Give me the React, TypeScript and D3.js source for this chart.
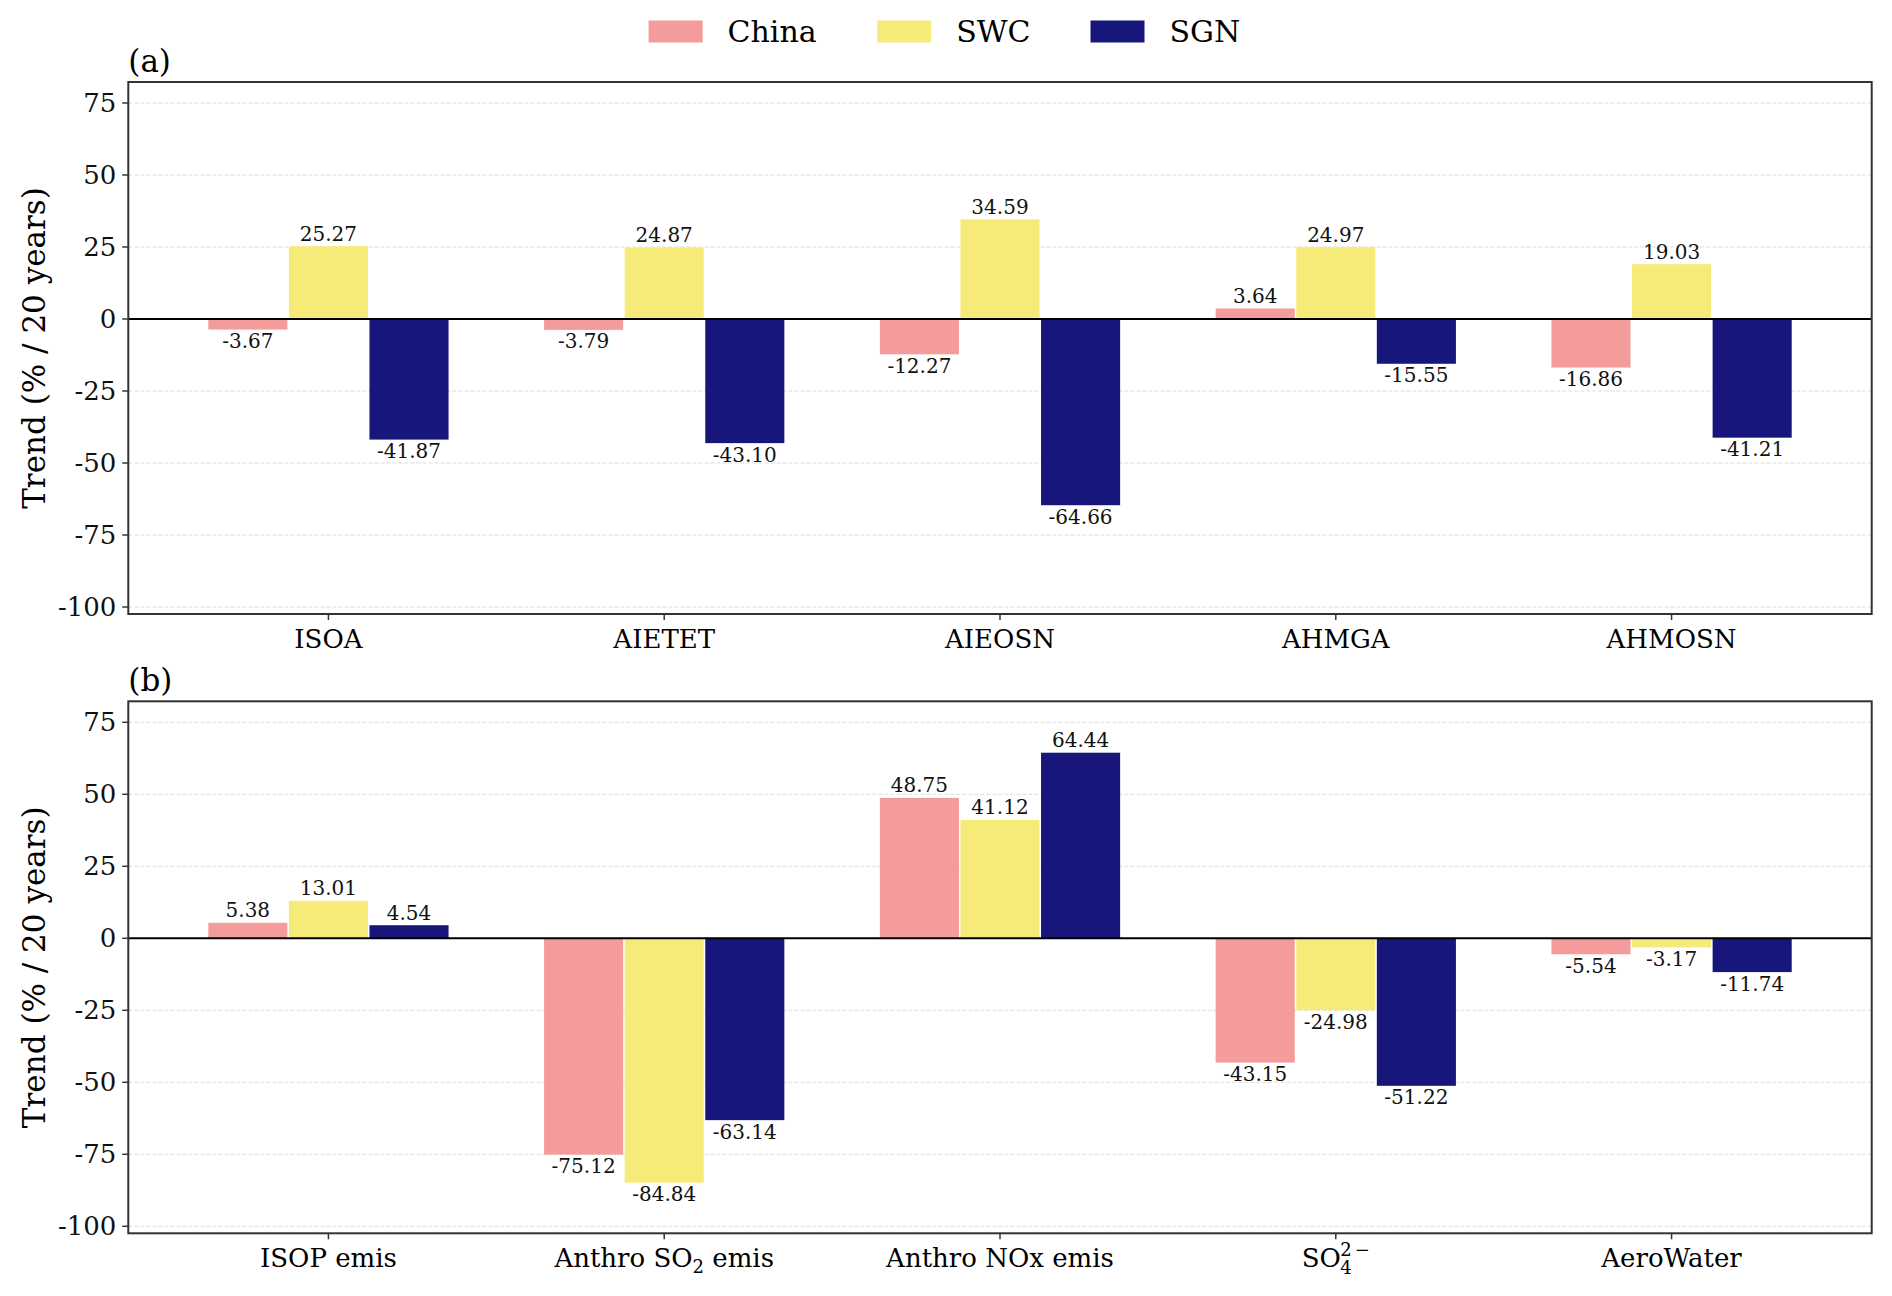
import React, { useEffect } from 'react';
import * as d3 from 'd3';

// ---- data ----
const seriesNames = ['China', 'SWC', 'SGN'];
const seriesColors = ['#F39C9B', '#F6EB78', '#16167B'];

const catsA = ['ISOA', 'AIETET', 'AIEOSN', 'AHMGA', 'AHMOSN'];
const chinaA = [-3.67, -3.79, -12.27, 3.64, -16.86];
const swcA = [25.27, 24.87, 34.59, 24.97, 19.03];
const sgnA = [-41.87, -43.1, -64.66, -15.55, -41.21];

const catsB = ['ISOP emis', 'Anthro SO2 emis', 'Anthro NOx emis', 'SO4 2-', 'AeroWater'];
const chinaB = [5.38, -75.12, 48.75, -43.15, -5.54];
const swcB = [13.01, -84.84, 41.12, -24.98, -3.17];
const sgnB = [4.54, -63.14, 64.44, -51.22, -11.74];

const yTicks = [75, 50, 25, 0, -25, -50, -75, -100];

// ---- layout ----
const W = 1892;
const H = 1296;
const left = 128.3;
const right = 1871.7;
const panelH = 532;
const barW = 0.24;
const font = '"DejaVu Serif", serif';

const x = d3.scaleLinear().domain([-0.596, 4.596]).range([left, right]);

const panels = [
  { tag: '(a)', top: 82, cats: catsA, data: [chinaA, swcA, sgnA] },
  { tag: '(b)', top: 701.3, cats: catsB, data: [chinaB, swcB, sgnB] },
];

// category label, with the chemistry sub/superscripts
function CatLabel({ label, cx, y }: { label: string; cx: number; y: number }) {
  const fs = 26;
  const small = 18;
  if (label === 'Anthro SO2 emis') {
    return (
      <text x={cx} y={y} textAnchor="middle" fontSize={fs} fontFamily={font}>
        Anthro SO
        <tspan fontSize={small} dy={6}>2</tspan>
        <tspan dy={-6}> emis</tspan>
      </text>
    );
  }
  if (label === 'SO4 2-') {
    const x0 = cx - 34;
    const xs = x0 + 38.5;
    return (
      <g fontFamily={font}>
        <text x={x0} y={y} fontSize={fs}>SO</text>
        <text x={xs} y={y + 7} fontSize={small}>4</text>
        <text x={xs} y={y - 11} fontSize={small}>2</text>
        <text x={xs + 14.5} y={y - 11} fontSize={small}>−</text>
      </g>
    );
  }
  return (
    <text x={cx} y={y} textAnchor="middle" fontSize={fs} fontFamily={font}>
      {label}
    </text>
  );
}

function Panel({ tag, top, cats, data }: (typeof panels)[number]) {
  const bottom = top + panelH;
  const y = d3.scaleLinear().domain([-102.43, 82.29]).range([bottom, top]);
  const bw = x(barW) - x(0);

  return (
    <g>
      {/* grid */}
      {yTicks.map((t) => (
        <line
          key={'g' + t}
          x1={left}
          x2={right}
          y1={y(t)}
          y2={y(t)}
          stroke="#dcdcdc"
          strokeWidth={1}
          strokeDasharray="4,2"
        />
      ))}

      {/* bars */}
      {data.map((vals, si) =>
        vals.map((v, ci) => {
          const cx = x(ci + (si - 1) * barW);
          return (
            <rect
              key={`b${si}-${ci}`}
              x={cx - bw / 2 + 0.75}
              width={bw - 1.5}
              y={Math.min(y(v), y(0))}
              height={Math.abs(y(v) - y(0))}
              fill={seriesColors[si]}
            />
          );
        })
      )}

      {/* zero line */}
      <line x1={left} x2={right} y1={y(0)} y2={y(0)} stroke="#000" strokeWidth={2} />

      {/* value labels */}
      {data.map((vals, si) =>
        vals.map((v, ci) => {
          const cx = x(ci + (si - 1) * barW);
          return (
            <text
              key={`l${si}-${ci}`}
              x={cx}
              y={v >= 0 ? y(v) - 5.5 : y(v) + 18.5}
              textAnchor="middle"
              fontSize={20}
              fontFamily={font}
              fill="#111"
            >
              {v.toFixed(2)}
            </text>
          );
        })
      )}

      {/* frame */}
      <rect x={left} y={top} width={right - left} height={panelH} fill="none" stroke="#333" strokeWidth={2} />

      {/* y ticks */}
      {yTicks.map((t) => (
        <g key={'t' + t}>
          <line x1={left - 6} x2={left} y1={y(t)} y2={y(t)} stroke="#333" strokeWidth={1.5} />
          <text
            x={left - 12}
            y={y(t)}
            textAnchor="end"
            dominantBaseline="central"
            fontSize={26}
            fontFamily={font}
            fill="#111"
          >
            {t}
          </text>
        </g>
      ))}

      {/* x ticks */}
      {cats.map((c, ci) => (
        <g key={'x' + c}>
          <line x1={x(ci)} x2={x(ci)} y1={bottom} y2={bottom + 6} stroke="#333" strokeWidth={1.5} />
          <CatLabel label={c} cx={x(ci)} y={bottom + 34} />
        </g>
      ))}

      {/* panel tag */}
      <text x={left} y={top - 10} fontSize={31} fontFamily={font}>
        {tag}
      </text>

      {/* y label */}
      <text
        transform={`translate(34,${(top + bottom) / 2}) rotate(-90)`}
        textAnchor="middle"
        dominantBaseline="central"
        fontSize={31}
        fontFamily={font}
      >
        Trend (% / 20 years)
      </text>
    </g>
  );
}

const legendPatchX = [648.6, 877.2, 1090.5];

export default function App() {
  useEffect(() => {
    document.body.style.margin = '0';
  }, []);

  return (
    <svg width={W} height={H} style={{ display: 'block', background: '#fff' }}>
      <rect width={W} height={H} fill="#fff" />
      {/* legend */}
      {seriesNames.map((n, i) => (
        <g key={n}>
          <rect x={legendPatchX[i]} y={20.5} width={54} height={22} fill={seriesColors[i]} />
          <text
            x={legendPatchX[i] + 79}
            y={31.5}
            dominantBaseline="central"
            fontSize={30}
            fontFamily={font}
          >
            {n}
          </text>
        </g>
      ))}
      {panels.map((p) => (
        <Panel key={p.tag} {...p} />
      ))}
    </svg>
  );
}
